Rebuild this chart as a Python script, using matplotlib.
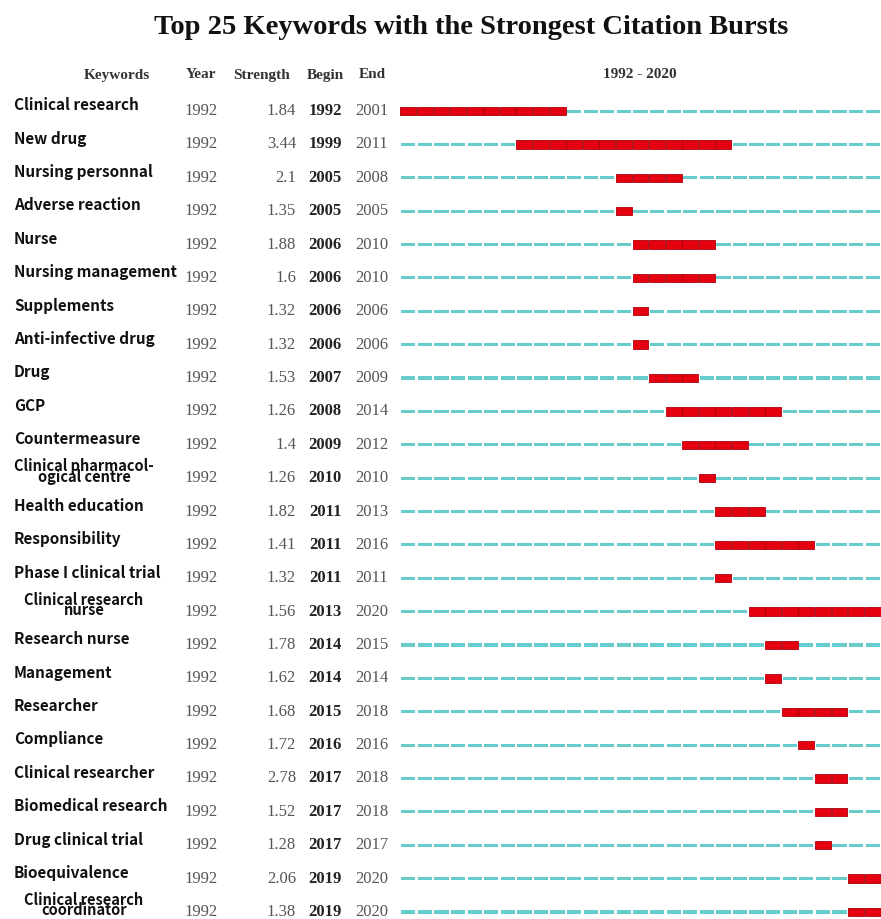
import matplotlib.pyplot as plt
import matplotlib.transforms as mtransforms

# Citation burst table
keywords = [
    "Clinical research", "New drug", "Nursing personnal", "Adverse reaction",
    "Nurse", "Nursing management", "Supplements", "Anti-infective drug",
    "Drug", "GCP", "Countermeasure", "Clinical pharmacol-\nogical centre",
    "Health education", "Responsibility", "Phase I clinical trial",
    "Clinical research\nnurse", "Research nurse", "Management", "Researcher",
    "Compliance", "Clinical researcher", "Biomedical research",
    "Drug clinical trial", "Bioequivalence", "Clinical research\ncoordinator",
]
first_year = [1992] * 25
strength = [1.84, 3.44, 2.1, 1.35, 1.88, 1.6, 1.32, 1.32, 1.53, 1.26, 1.4, 1.26,
            1.82, 1.41, 1.32, 1.56, 1.78, 1.62, 1.68, 1.72, 2.78, 1.52, 1.28,
            2.06, 1.38]
begin = [1992, 1999, 2005, 2005, 2006, 2006, 2006, 2006, 2007, 2008, 2009, 2010,
         2011, 2011, 2011, 2013, 2014, 2014, 2015, 2016, 2017, 2017, 2017,
         2019, 2019]
end = [2001, 2011, 2008, 2005, 2010, 2010, 2006, 2006, 2009, 2014, 2012, 2010,
       2013, 2016, 2011, 2020, 2015, 2014, 2018, 2016, 2018, 2018, 2017,
       2020, 2020]
span_start, span_end = 1992, 2020

W, H = 881, 919
fig = plt.figure(figsize=(W / 100, H / 100), dpi=100)

# timeline axes: x in years, y in row index
ax = fig.add_axes([400 / W, 0, 1 - 400 / W, 1 - 95 / H])
n = len(keywords)
ax.set_xlim(span_start, span_end + 1)
ax.set_ylim(n - 1 + 7 / 33.37, -16 / 33.37)
ax.axis('off')

teal = '#66cccc'
red = '#e50010'
years = list(range(span_start, span_end + 1))
for i in range(n):
    calm = [y for y in years if not (begin[i] <= y <= end[i])]
    hot = [y for y in years if begin[i] <= y <= end[i]]
    ax.barh([i] * len(calm), 0.86, left=[y + 0.07 for y in calm], height=0.09,
            color=teal, edgecolor='none')
    ax.barh([i] * len(hot), 0.96, left=[y + 0.02 for y in hot], height=0.25,
            color=red, edgecolor='#a8000a', linewidth=0.6)

tr = mtransforms.blended_transform_factory(fig.transFigure, ax.transData)

def px(x):
    return x / W

serif = 'Liberation Serif'
for i in range(n):
    multi = '\n' in keywords[i]
    ax.text(px(14) if not multi else px(84), i - (0.2 if multi else 0.17),
            keywords[i], transform=tr,
            ha='left' if not multi else 'center', va='center',
            multialignment='center', linespacing=0.55,
            family='Noto Sans CJK KR', fontweight='bold',
            fontsize=10.5 if multi else 11, color='#111111')
    ax.text(px(201), i, str(first_year[i]), transform=tr, ha='center',
            va='center', family=serif, fontsize=12, color='#555555')
    ax.text(px(296), i, f"{strength[i]:g}", transform=tr, ha='right',
            va='center', family=serif, fontsize=12, color='#555555')
    ax.text(px(325), i, str(begin[i]), transform=tr, ha='center',
            va='center', family=serif, fontweight='bold', fontsize=12,
            color='#222222')
    ax.text(px(372), i, str(end[i]), transform=tr, ha='center',
            va='center', family=serif, fontsize=12, color='#555555')

# column headers
hy = 1 - 75 / H
for x, s in [(117, "Keywords"), (201, "Year"), (262, "Strength"),
             (325, "Begin"), (372, "End"),
             (640, f"{span_start} - {span_end}")]:
    fig.text(px(x), hy, s, ha='center', va='center', family=serif,
             fontweight='bold', fontsize=11, color='#333333')

fig.text(px(471), 1 - 28 / H, "Top 25 Keywords with the Strongest Citation Bursts",
         ha='center', va='center', family=serif, fontweight='bold',
         fontsize=20.5, color='#111111')

fig.savefig('out.png', dpi=100, facecolor='white')
